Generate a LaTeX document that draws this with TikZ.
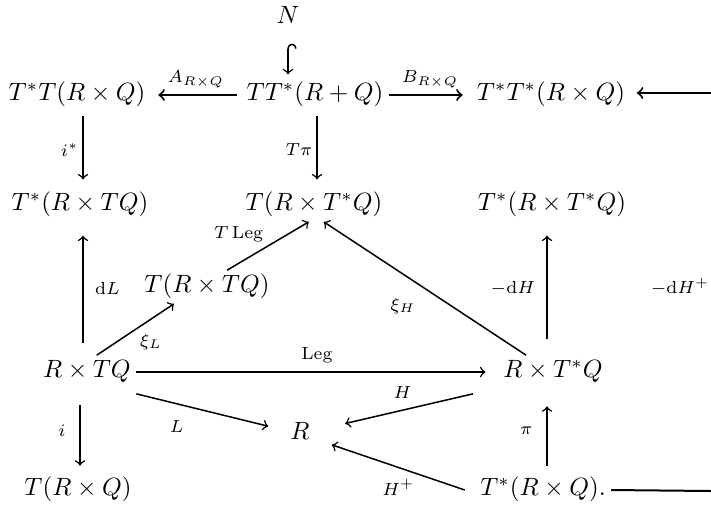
\documentclass[tikz,border=0pt]{standalone}
\usepackage{amsmath}
\usetikzlibrary{calc,arrows}

\begin{document}
\begin{tikzpicture}[x=0.4pt,y=-0.4pt,
  obj/.style={inner sep=2pt, text height=1.6ex, text depth=0.5ex},
  lbl/.style={font=\scriptsize, inner sep=1.5pt},
  arr/.style={->, line width=0.6pt}]
\useasboundingbox (0,0) rectangle (711,508);

% objects
\node[obj] (N) at (288,18) {$N$};
\node[obj] (TsTRQ) at (77,95) {$T^*T(R\times Q)$};
\node[obj] (TTsRQ) at (315,95) {$TT^*(R+Q)$};
\node[obj] (TsTsRQ) at (551,95) {$T^*T^*(R\times Q)$};
\node[obj] (TsRTQ) at (80,205) {$T^*(R\times TQ)$};
\node[obj] (TRTsQ) at (314,205) {$T(R\times T^*Q)$};
\node[obj] (TsRTsQ) at (552,205) {$T^*(R\times T^*Q)$};
\node[obj] (TRTQ) at (207,287) {$T(R\times TQ)$};
\node[obj] (RTQ) at (87,372) {$R\times TQ$};
\node[obj] (RTsQ) at (553,372) {$R\times T^*Q$};
\node[obj, minimum width=25pt] (R) at (300,434) {$R$};
\node[obj] (TRQ) at (78,490) {$T(R\times Q)$};
\node[obj] (TsRQ) at (543,490) {$T^*(R\times Q).$};

\coordinate (colL) at (83,0);
\coordinate (colI) at (80,0);
\coordinate (colT) at (317,0);
\coordinate (colR) at (547,0);
\coordinate (eTop) at (711,93);
\coordinate (eBot) at (711,491);

% top row
\draw[arr, right hook->, shorten <=3.5pt, shorten >=1.5pt] (N) -- (N |- TTsRQ.north);
\draw[arr, line width=0.8pt, shorten <=1.5pt, shorten >=3pt] (TTsRQ.west) -- node[lbl, above=1pt]{$A_{R\times Q}$} (TsTRQ.east);
\draw[arr, line width=0.8pt, shorten >=3.5pt] (TTsRQ.east) -- node[lbl, above=1pt]{$B_{R\times Q}$} (TsTsRQ.west);
\draw[arr, line width=0.8pt, shorten >=2.5pt] (eTop) -- (eTop -| TsTsRQ.east);

% verticals
\draw[arr, shorten <=1.5pt, shorten >=3.5pt] (TsTRQ.south -| colL) -- node[lbl, left]{$i^*$} (TsRTQ.north -| colL);
\draw[arr, shorten <=1.5pt, shorten >=3.5pt] (TTsRQ.south -| colT) -- node[lbl, left]{$T\pi$} (TRTsQ.north -| colT);
\draw[arr, shorten <=5pt, shorten >=5.5pt] (RTQ.north -| colL) -- node[lbl, right=3pt]{$\mathrm{d}L$} (TsRTQ.south -| colL);
\draw[arr, shorten <=6.5pt, shorten >=5.5pt] (RTsQ.north -| colR) -- node[lbl, left=3pt]{$-\mathrm{d}H$} (TsRTsQ.south -| colR);
\draw[arr, shorten <=6.5pt, shorten >=3pt] (RTQ.south -| colI) -- node[lbl, left=4pt]{$i$} (TRQ.north -| colI);
\draw[arr, shorten <=3pt, shorten >=7pt] (TsRQ.north -| colR) -- node[lbl, left=4pt]{$\pi$} (RTsQ.south -| colR);

% diagonals
\draw[arr] (RTQ.60) -- node[lbl, below right]{$\xi_L$} (TRTQ.207);
\draw[arr] (TRTQ.40) -- node[lbl, above left]{$T\,\mathrm{Leg}$} (TRTsQ.253);
\draw[arr] (RTsQ.148) -- node[lbl, below left=2pt]{$\xi_H$} (TRTsQ.300);
\draw[arr, shorten >=5pt] (RTQ.east) -- node[lbl, above=2pt]{$\mathrm{Leg}$} (RTsQ.west);
\draw[arr] ([yshift=-2pt]RTQ.south east) -- node[lbl, below left=3pt, pos=0.45]{$L$} (R);
\draw[arr, shorten >=5.5pt] ([xshift=-10pt,yshift=-2pt]RTsQ.south west) -- node[lbl, above=3pt]{$H$} (R);
\draw[arr] ([xshift=-4pt]TsRQ.west) -- node[lbl, below=3pt]{$H^+$} (R);

\draw[line width=0.8pt] (TsRQ.east) -- (eBot);
\node[lbl] (dHp) at (680,287) {$-\mathrm{d}H^+$};
\end{tikzpicture}
\end{document}
